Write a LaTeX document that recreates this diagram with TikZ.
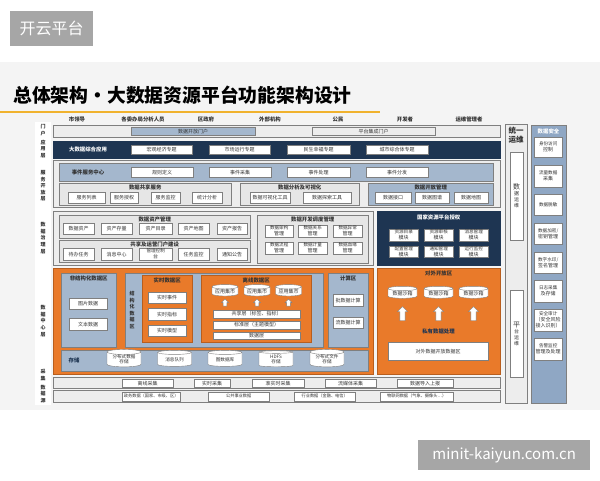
\documentclass[tikz,border=0pt]{standalone}
\usepackage{fontspec}
\setmainfont{Noto Sans CJK SC}
\usetikzlibrary{positioning,shapes.geometric,shapes.arrows}
\definecolor{slidebg}{HTML}{F4F4F4}
\definecolor{panelbg}{HTML}{EDEDED}
\definecolor{subbg}{HTML}{E6E6E6}
\definecolor{boxline}{HTML}{7F7F7F}
\definecolor{textgrey}{HTML}{333333}
\definecolor{bgblue}{HTML}{A4B7CD}
\definecolor{secblue}{HTML}{8FA7C4}
\definecolor{navy}{HTML}{1E3552}
\definecolor{orng}{HTML}{E97A2A}
\definecolor{orngdark}{HTML}{B85E1E}
\definecolor{titleline}{HTML}{F0B22E}
\definecolor{wmgrey}{HTML}{A6A6A6}
\newcommand{\boxfont}{\fontsize{5}{6}\selectfont}
\newcommand{\twofont}{\fontsize{4.6}{5.4}\selectfont}
\newcommand{\headfont}{\bfseries\fontsize{5.4}{6.4}\selectfont}
% block with its top-left and bottom-right corners
\newcommand{\blk}[7]{\node[#1,anchor=north west,minimum width={(#4-(#2))*1pt},minimum height={(#5-(#3))*1pt}] (#6) at (#2,#3) {#7};}
\tikzset{
  wbox/.style={draw=boxline, fill=white, inner sep=0pt, align=center, font=\boxfont, text=textgrey},
  gbox/.style={wbox, fill=panelbg},
  bgbox/.style={wbox, fill=bgblue},
  panel/.style={draw=boxline, fill=panelbg, inner sep=0pt},
  subpanel/.style={draw=boxline, fill=subbg, inner sep=0pt},
  bluepanel/.style={draw=boxline, fill=bgblue, inner sep=0pt},
  navypanel/.style={draw=navy, fill=navy, inner sep=0pt},
  orpanel/.style={draw=orngdark, fill=orng, inner sep=0pt},
  secpanel/.style={draw=boxline, fill=secblue, inner sep=0pt},
  head/.style={font=\headfont, text=textgrey, inner sep=0pt},
  whitehead/.style={head, text=white},
  usr/.style={font=\headfont, text=textgrey, inner sep=0pt},
  vtxt/.style={align=center, font=\bfseries\fontsize{5}{6.6}\selectfont, text=textgrey, inner sep=0pt},
  wmbox/.style={fill=wmgrey, text=white, inner sep=0pt},
  cyl/.style={cylinder, shape border rotate=90, aspect=0.22, draw=boxline, fill=white, inner sep=0pt, align=center, font=\boxfont, text=textgrey},
  uparrow/.style={single arrow, shape border rotate=90, draw=boxline, fill=white, inner sep=1.5pt, single arrow head extend=1.5pt}
}
\begin{document}
\begin{tikzpicture}[x=1pt,y=-1pt]
\useasboundingbox (0,0) rectangle (600,480);
\fill[white] (0,0) rectangle (600,480);
\fill[slidebg] (0,62) rectangle (600,410);

% watermarks
\blk{wmbox}{10}{11}{93}{46}{wmtop}{\fontsize{16}{18}\selectfont 开云平台}
\blk{wmbox}{418}{440}{590}{470}{wmbot}{\fontsize{15}{17}\selectfont minit-kaiyun.com.cn}

% title
\node[anchor=west, inner sep=0pt, font=\bfseries\fontsize{18.8}{22}\selectfont] (title) at (13,95) {总体架构·大数据资源平台功能架构设计};
\draw[titleline, line width=2.5pt] (0,112) -- (380,112);

% users
\foreach \x/\t [count=\i] in {77/市领导, 143/各委办局分析人员, 206/区政府, 270/外部机构, 338/公民, 405/开发者, 469/运维管理者}
  {\node[usr] (u\i) at (\x,119) {\t};}

% layer labels
\fill[white] (35,122) rectangle (51,405);
\node[vtxt] (lb1) at (43,130) {门\\户};
\node[vtxt] (lb2) at (43,149) {应\\用\\层};
\node[vtxt] (lb3) at (43,186) {服\\务\\开\\放\\层};
\node[vtxt] (lb4) at (43,238) {数\\据\\治\\理\\层};
\node[vtxt] (lb5) at (43,321) {数\\据\\中\\心\\层};
\node[vtxt] (lb6) at (43,375) {采\\集};
\node[vtxt] (lb7) at (43,394) {数\\据\\源};

% portal
\blk{panel}{53}{125}{500}{137}{portal}{}
\blk{bgbox}{131}{127}{255}{135}{pt1}{数据开放门户}
\blk{gbox}{312}{127}{435}{135}{pt2}{平台集成门户}

% applications
\blk{navypanel}{53}{141}{500}{158}{app}{}
\node[whitehead] (appt) at (88,149.5) {大数据综合应用};
\foreach \a/\b/\t [count=\i] in {131/192/宏观经济专题, 209/270/市场运行专题, 287/350/民生幸福专题, 366/428/城市综合体专题}
  {\blk{wbox}{\a}{145}{\b}{154}{ap\i}{\t}}

% service layer
\blk{panel}{53}{160}{500}{207}{svc}{}
\blk{bluepanel}{59}{163}{493}{181}{evt}{}
\node[head] (evtt) at (88,172) {事件服务中心};
\foreach \a/\b/\t [count=\i] in {131/193/规则定义, 209/271/事件采集, 287/350/事件处理, 366/428/事件分发}
  {\blk{wbox}{\a}{167}{\b}{177}{ev\i}{\t}}

\blk{subpanel}{59}{183}{231}{205}{shr}{}
\node[head, below=2pt of shr.north] (shrt) {数据共享服务};
\foreach \a/\b/\t [count=\i] in {68/105/服务列表, 110/138/服务授权, 151/180/服务监控, 192/222/统计分析}
  {\blk{wbox}{\a}{192}{\b}{203}{sh\i}{\t}}

\blk{subpanel}{240}{183}{359}{205}{vis}{}
\node[head, below=2pt of vis.north] (vist) {数据分析及可视化};
\blk{wbox}{250}{192}{290}{203}{vi1}{数据可视化工具}
\blk{wbox}{303}{192}{351}{203}{vi2}{数据探索工具}

\blk{bluepanel}{368}{183}{493}{205}{opn}{}
\node[head, below=2pt of opn.north] (opnt) {数据开放管理};
\foreach \a/\b/\t [count=\i] in {375/411/数据接口, 415/449/数据图谱, 454/488/数据地图}
  {\blk{wbox}{\a}{192}{\b}{203}{op\i}{\t}}

% governance layer
\blk{panel}{53}{211}{373}{265}{gov}{}
\blk{subpanel}{59}{215}{250}{238}{ast}{}
\node[head, below=2pt of ast.north] (astt) {数据资产管理};
\foreach \a/\b/\t [count=\i] in {63/94/数据资产, 101/132/资产存量, 139/172/资产目录, 178/209/资产地图, 217/247/资产报告}
  {\blk{wbox}{\a}{223}{\b}{234}{as\i}{\t}}
\blk{subpanel}{59}{240}{250}{262}{ops}{}
\node[head, below=2pt of ops.north] (opst) {共享及运营门户建设};
\foreach \a/\b/\t [count=\i] in {63/94/待办任务, 101/132/消息中心, 139/172/{\twofont 管理控制\\台}, 178/209/任务监控, 217/247/通知公告}
  {\blk{wbox}{\a}{248}{\b}{260}{os\i}{\t}}

\blk{subpanel}{257}{215}{368}{263}{dev}{}
\node[head, below=2pt of dev.north] (devt) {数据开发调度管理};
\foreach \a/\c/\b/\d/\t [count=\i] in {265/225/293/237/数据架构, 298/225/327/237/数据关系, 333/225/362/237/数据异常,
    265/242/293/254/数据流程, 298/242/327/254/数据计量, 333/242/362/254/数据血缘}
  {\blk{wbox}{\a}{\c}{\b}{\d}{dv\i}{\twofont\t\\管理}}

\blk{navypanel}{377}{211}{500}{265}{auth}{}
\node[whitehead, below=4pt of auth.north] (autht) {国家资源平台授权};
\foreach \a/\c/\b/\d/\t [count=\i] in {389/229/418/241/资源目录, 424/229/453/241/资源审核, 459/229/488/241/消息管理,
    389/246/418/257/配置管理, 424/246/453/257/通知管理, 459/246/488/257/运行监控}
  {\blk{wbox}{\a}{\c}{\b}{\d}{au\i}{\twofont\t\\模块}}

% data centre layer
\blk{orpanel}{53}{268}{373}{374}{dc}{}
\blk{bluepanel}{61}{273}{116}{347}{uns}{}
\node[head, below=2.5pt of uns.north] (unst) {非结构化数据区};
\blk{wbox}{69}{298}{107}{309}{un1}{图片数据}
\blk{wbox}{69}{318}{107}{330}{un2}{文本数据}

\blk{bluepanel}{125}{273}{323}{347}{str}{}
\node[vtxt] (strt) at (132,310) {结\\构\\化\\数\\据\\区};
\blk{orpanel}{142}{275}{192}{342}{rt}{}
\node[head, below=2.5pt of rt.north] (rtt) {实时数据区};
\foreach \c/\d/\t [count=\i] in {292/303/实时事件, 308/320/实时指标, 325/336/实时模型}
  {\blk{wbox}{148}{\c}{186}{\d}{rt\i}{\t}}

\blk{orpanel}{201}{275}{311}{342}{off}{}
\node[head, below=2.5pt of off.north] (offt) {离线数据区};
\foreach \x [count=\i] in {225,257,288.5} {
  \node[cyl, minimum width=26pt, minimum height=10pt] (mk\i) at (\x,291.5) {应用集市};
  \node[uparrow, minimum width=7pt, minimum height=7pt] (ma\i) at (\x,303.5) {};
}
\blk{wbox}{213}{310}{300}{317.5}{ly1}{共享层（标签、指标）}
\blk{wbox}{213}{321}{300}{328.5}{ly2}{标准层（主题模型）}
\blk{wbox}{213}{331.5}{300}{339}{ly3}{数据层}

\blk{bluepanel}{328}{273}{368}{347}{cmp}{}
\node[head, below=2.5pt of cmp.north] (cmpt) {计算区};
\blk{wbox}{333}{294}{363}{306}{cp1}{批数据计算}
\blk{wbox}{333}{317}{363}{328}{cp2}{流数据计算}

\blk{bluepanel}{61}{350}{368}{371}{sto}{}
\node[head, text=navy] (stot) at (74,360.5) {存储};
\foreach \x/\t [count=\i] in {124/{分布式数据\\存储}, 174.5/消息队列, 225/图数据库, 276/{HDFS\\存储}, 327/{分布式文件\\存储}}
  {\node[cyl, minimum width=34pt, minimum height=16pt, font=\twofont] (st\i) at (\x,359.5) {\t};}

\blk{orpanel}{377}{268}{500}{374}{ext}{}
\node[head, below=2.5pt of ext.north] (extt) {对外开放区};
\foreach \x [count=\i] in {402.5,438.5,473.5} {
  \node[cyl, minimum width=29pt, minimum height=12pt] (sb\i) at (\x,293.5) {数据沙箱};
  \node[uparrow, inner sep=2.2pt, single arrow head extend=2.2pt, minimum width=10pt, minimum height=14pt] (sa\i) at (\x,315) {};
}
\node[head, text=navy] (prv) at (438.5,331) {私有数据处理};
\blk{wbox}{388}{342}{488}{360}{extd}{对外数据开放数据区}

% collection and sources
\blk{panel}{53}{377}{500}{388}{col}{}
\foreach \a/\b/\t [count=\i] in {122/173/离线采集, 194/230/实时采集, 252/304/准实时采集, 325/376/流媒体采集, 397/453/数据导入上报}
  {\blk{wbox}{\a}{379}{\b}{387}{cl\i}{\t}}
\blk{panel}{53}{390}{500}{402}{src}{}
\foreach \a/\b/\t [count=\i] in {122/180/政务数据（国家、市级、区）, 208/269/公共事业数据, 294/355/行业数据（金融、电信）, 380/453/物联网数据（气象、摄像头…）}
  {\blk{wbox}{\a}{391.5}{\b}{400.5}{sr\i}{\fontsize{4.2}{5}\selectfont\t}}

% operations column
\blk{panel}{505}{124}{527}{403}{om}{}
\node[vtxt, font=\bfseries\fontsize{7.5}{8.5}\selectfont] (omt) at (516,135) {统一\\运维};
\blk{wbox}{510}{152}{523}{240}{om1}{\fontsize{7}{9}\selectfont 数\\据\\运\\维}
\blk{wbox}{510}{290}{523}{377}{om2}{\fontsize{7}{9}\selectfont 平\\台\\运\\维}

% security column
\blk{secpanel}{531}{125}{566}{403}{sec}{}
\node[whitehead] (sect) at (548.5,131) {数据安全};
\foreach \c/\d/\t [count=\i] in {137/157/{身份访问\\控制}, 165/187/{流量数据\\采集}, 194/215/数据脱敏, 223/244/{数据加密/\\密钥管理},
    252/273/{数字水印/\\签名管理}, 280/302/{日志采集\\及存储}, 309/331/{安全审计\\（安全风险\\接入识别）}, 338/360/{告警监控\\管理及处理}}
  {\blk{wbox}{534}{\c}{562}{\d}{sc\i}{\twofont\t}}
\end{tikzpicture}
\end{document}
